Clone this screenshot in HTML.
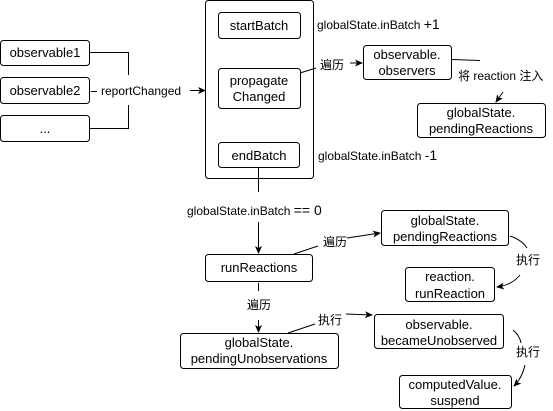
<!DOCTYPE html>
<html><head><meta charset="utf-8"><style>
html,body{margin:0;padding:0;background:#fff;}
svg{display:block;font-family:"Liberation Sans","Noto Sans CJK SC",sans-serif;}
.b{fill:#fff;stroke:#000;stroke-width:1;}
.t{font-size:13px;text-anchor:middle;fill:#000;}
.l{font-size:12px;fill:#000;}
.ln{fill:none;stroke:#000;stroke-width:1;}
</style></head><body>
<svg width="553" height="411" viewBox="0 0 553 411">
<defs><marker id="a" markerWidth="8" markerHeight="8" refX="7" refY="4" orient="auto" markerUnits="userSpaceOnUse"><path d="M0,0.5 L8,4 L0,7.5 L2,4 Z" fill="#000"/></marker></defs>
<rect class="b" x="205.5" y="0.5" width="108" height="178" rx="3"/>
<rect class="b" x="218.5" y="12.5" width="82" height="26" rx="3"/>
<text class="t" x="259" y="30">startBatch</text>
<rect class="b" x="218.5" y="68.5" width="82" height="40" rx="3"/>
<text class="t" x="259" y="85">propagate</text>
<text class="t" x="259" y="101">Changed</text>
<rect class="b" x="218.5" y="142.5" width="81" height="25" rx="3"/>
<text class="t" x="259" y="160">endBatch</text>
<rect class="b" x="0.5" y="40.5" width="89" height="25" rx="3"/>
<text class="t" x="45" y="57">observable1</text>
<rect class="b" x="0.5" y="77.5" width="89" height="26" rx="3"/>
<text class="t" x="45" y="95">observable2</text>
<rect class="b" x="0.5" y="115.5" width="89" height="26" rx="3"/>
<text class="t" x="45" y="133">...</text>
<path class="ln" d="M90,52.5 H128.5 V75"/>
<path class="ln" d="M90,128.5 H128.5 V105"/>
<path class="ln" d="M91,91.5 H97"/>
<text class="l" x="101" y="95">reportChanged</text>
<path class="ln" d="M190,90.5 H205" marker-end="url(#a)"/>
<text class="l" x="317" y="29">globalState.inBatch <tspan font-size="14">+1</tspan></text>
<text class="l" x="318" y="160">globalState.inBatch <tspan font-size="14">-1</tspan></text>
<path class="ln" d="M300,73 L316,68"/>
<text class="l" x="320" y="69">遍历</text>
<path class="ln" d="M350,63 H362" marker-end="url(#a)"/>
<rect class="b" x="363.5" y="45.5" width="88" height="34" rx="3"/>
<text class="t" x="407" y="59">observable.</text>
<text class="t" x="407" y="75">observers</text>
<path class="ln" d="M452,59.5 L480,60.5"/>
<text class="l" x="458" y="80">将 reaction 注入</text>
<path class="ln" d="M503,92 L496,102" marker-end="url(#a)"/>
<rect class="b" x="417.5" y="103.5" width="128" height="34" rx="3"/>
<text class="t" x="481" y="117">globalState.</text>
<text class="t" x="481" y="133">pendingReactions</text>
<path class="ln" d="M258.5,168 V192"/>
<text class="l" x="187" y="215">globalState.inBatch <tspan font-size="14">== 0</tspan></text>
<path class="ln" d="M258.5,222 V253" marker-end="url(#a)"/>
<rect class="b" x="205.5" y="254.5" width="107" height="27" rx="3"/>
<text class="t" x="259" y="272">runReactions</text>
<path class="ln" d="M294,254 L318,246"/>
<text class="l" x="323" y="246">遍历</text>
<path class="ln" d="M347,238 L380,233" marker-end="url(#a)"/>
<rect class="b" x="381.5" y="210.5" width="127" height="35" rx="3"/>
<text class="t" x="445" y="225">globalState.</text>
<text class="t" x="445" y="241">pendingReactions</text>
<path class="ln" d="M510,236 Q522,240 527,248"/>
<text class="l" x="516" y="264">执行</text>
<path class="ln" d="M520,275 Q512,285 497,287" marker-end="url(#a)"/>
<rect class="b" x="405.5" y="267.5" width="89" height="34" rx="3"/>
<text class="t" x="450" y="281">reaction.</text>
<text class="t" x="450" y="298">runReaction</text>
<path class="ln" d="M258.5,283 V291"/>
<text class="l" x="247" y="309">遍历</text>
<path class="ln" d="M258.5,320 V332" marker-end="url(#a)"/>
<rect class="b" x="180.5" y="333.5" width="158" height="35" rx="3"/>
<text class="t" x="259" y="347">globalState.</text>
<text class="t" x="259" y="363">pendingUnobservations</text>
<path class="ln" d="M288,333 L315,324"/>
<text class="l" x="318" y="324">执行</text>
<path class="ln" d="M346,314 L372,315" marker-end="url(#a)"/>
<rect class="b" x="374.5" y="314.5" width="129" height="34" rx="3"/>
<text class="t" x="439" y="329">observable.</text>
<text class="t" x="439" y="345">becameUnobserved</text>
<path class="ln" d="M513,330 Q520,336 521,343"/>
<text class="l" x="516" y="356">执行</text>
<path class="ln" d="M525,365 Q522,378 514,386" marker-end="url(#a)"/>
<rect class="b" x="399.5" y="375.5" width="112" height="33" rx="3"/>
<text class="t" x="455" y="389">computedValue.</text>
<text class="t" x="455" y="405">suspend</text>
</svg>
</body></html>
